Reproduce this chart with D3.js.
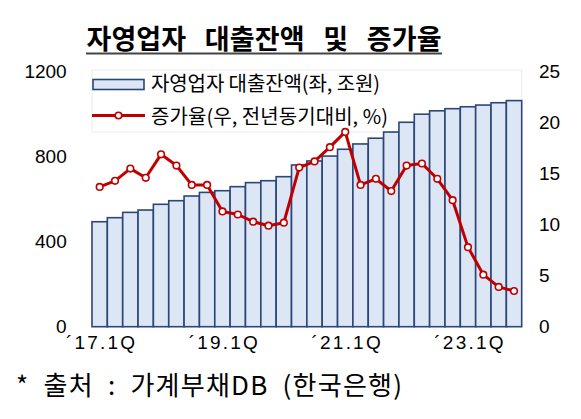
<!DOCTYPE html>
<html><head><meta charset="utf-8">
<script src="https://cdn.jsdelivr.net/npm/d3@7"></script>
<style>
html,body{margin:0;padding:0;background:#fff;}
svg{display:block;}
</style></head>
<body>
<svg id="c" width="581" height="419"></svg>
<script>
const categories = ["17.1Q","17.2Q","17.3Q","17.4Q","18.1Q","18.2Q","18.3Q","18.4Q",
  "19.1Q","19.2Q","19.3Q","19.4Q","20.1Q","20.2Q","20.3Q","20.4Q",
  "21.1Q","21.2Q","21.3Q","21.4Q","22.1Q","22.2Q","22.3Q","22.4Q",
  "23.1Q","23.2Q","23.3Q","23.4Q"];
const balance = [494,513,538,549,576,593,615,632,640,659,678,687,706,761,780,803,
  835,860,887,916,962,1000,1016,1026,1035,1043,1054,1064];
const growth = [13.7,14.3,15.5,14.6,16.9,15.8,13.9,13.9,11.3,11.0,10.3,9.9,10.2,15.6,16.2,17.6,
  19.1,13.9,14.5,13.3,15.8,16.0,14.5,12.4,7.8,5.1,3.9,3.5];
const xTickCats = ["17.1Q","19.1Q","21.1Q","23.1Q"];
const xTickLabels = ["´17.1Q","´19.1Q","´21.1Q","´23.1Q"];
const leftTicks = [0,400,800,1200];
const rightTicks = [0,5,10,15,20,25];
const title = "자영업자   대출잔액   및   증가율";
const legendLabels = ["자영업자 대출잔액(좌, 조원)","증가율(우, 전년동기대비, %)"];
const footnote = "*  출처  :  가계부채DB  (한국은행)";

const svg = d3.select("#c");
const L = 92, R = 521.7, T = 71.7, B = 326.7;
const x = d3.scaleBand().domain(categories).range([L,R]).padding(0);
const yL = d3.scaleLinear().domain([0,1200]).range([B,T]);
const yR = d3.scaleLinear().domain([0,25]).range([B,T]);
const numFont = "'Liberation Sans', Arial, sans-serif";
const krFont = "'Noto Sans CJK KR', 'Noto Sans', sans-serif";
const navy = "#2B4677", fill = "#DCE6F5", red = "#C00000";

// title
svg.append("text").attr("x",86.5).attr("y",48.5)
  .attr("font-family",krFont).attr("font-weight",700).attr("font-size",27)
  .attr("fill","#000").attr("xml:space","preserve").style("white-space","pre")
  .attr("textLength",355).attr("lengthAdjust","spacing").text(title);
svg.append("line").attr("x1",86).attr("x2",442).attr("y1",53.5).attr("y2",53.5)
  .attr("stroke","#444").attr("stroke-width",2.2);

// legend box
svg.append("rect").attr("x",L).attr("y",70).attr("width",R-L).attr("height",62)
  .attr("fill","#fff").attr("stroke","#ececec").attr("stroke-width",1);

// bars
svg.append("g").selectAll("rect").data(categories).join("rect")
  .attr("x",d=>x(d)).attr("width",x.bandwidth())
  .attr("y",(d,i)=>yL(balance[i])).attr("height",(d,i)=>B-yL(balance[i]))
  .attr("fill",fill).attr("stroke",navy).attr("stroke-width",1.6);

// line
const line = d3.line().x((d,i)=>x(categories[i])+x.bandwidth()/2).y(d=>yR(d));
svg.append("path").datum(growth).attr("d",line).attr("fill","none")
  .attr("stroke",red).attr("stroke-width",3).attr("stroke-linejoin","round");
svg.append("g").selectAll("circle").data(growth).join("circle")
  .attr("cx",(d,i)=>x(categories[i])+x.bandwidth()/2).attr("cy",d=>yR(d)).attr("r",3.3)
  .attr("fill","#fff").attr("stroke",red).attr("stroke-width",1.6);

// left axis
const gl = svg.append("g").attr("transform",`translate(66.7,0)`)
  .call(d3.axisLeft(yL).tickValues(leftTicks).tickFormat(d3.format("d")).tickSize(0).tickPadding(0));
gl.select(".domain").remove();
gl.selectAll("text").attr("font-family",numFont).attr("font-size",19).attr("fill","#000");
// right axis
const gr = svg.append("g").attr("transform",`translate(539,0)`)
  .call(d3.axisRight(yR).tickValues(rightTicks).tickSize(0).tickPadding(0));
gr.select(".domain").remove();
gr.selectAll("text").attr("font-family",numFont).attr("font-size",19).attr("fill","#000");
// x axis
const gx = svg.append("g").attr("transform",`translate(2,${B})`)
  .call(d3.axisBottom(x).tickValues(xTickCats).tickSize(0).tickPadding(0)
    .tickFormat(d=>xTickLabels[xTickCats.indexOf(d)]));
gx.select(".domain").remove();
gx.selectAll("text").attr("font-family",numFont).attr("font-size",19).attr("fill","#000")
  .attr("dy",null).attr("y",22).attr("letter-spacing",2.2);

// legend content
svg.append("rect").attr("x",93).attr("y",79.5).attr("width",51).attr("height",10)
  .attr("fill",fill).attr("stroke",navy).attr("stroke-width",1.6);
svg.append("line").attr("x1",92).attr("x2",145).attr("y1",115.5).attr("y2",115.5)
  .attr("stroke",red).attr("stroke-width",3);
svg.append("circle").attr("cx",118.5).attr("cy",115.5).attr("r",3.3)
  .attr("fill","#fff").attr("stroke",red).attr("stroke-width",1.6);
const legendLen = [229, 237];
svg.append("g").selectAll("text").data(legendLabels).join("text")
  .attr("x",151).attr("y",(d,i)=>i===0?91:124).attr("font-family",krFont)
  .attr("font-size",20).attr("fill","#000")
  .attr("textLength",(d,i)=>legendLen[i]).attr("lengthAdjust","spacing").text(d=>d);

// footnote
svg.append("text").attr("x",16).attr("y",395).attr("font-family",krFont)
  .attr("font-size",26).attr("fill","#000").attr("xml:space","preserve")
  .style("white-space","pre").attr("textLength",386).attr("lengthAdjust","spacing")
  .text(footnote);
</script>
</body></html>
